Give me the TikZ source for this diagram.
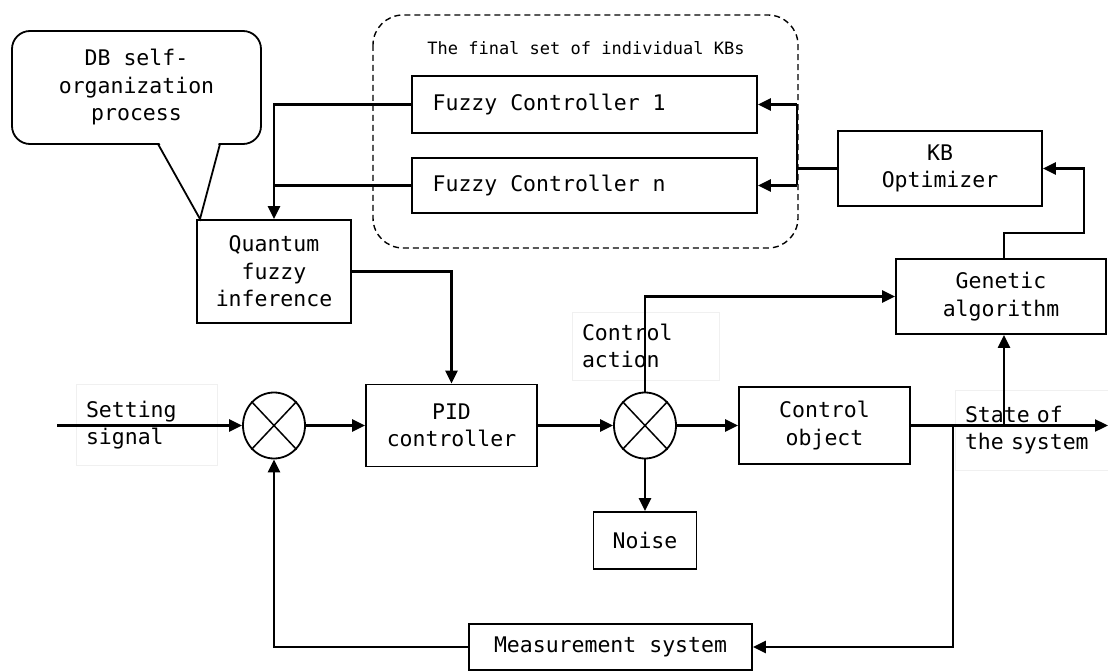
\documentclass[tikz,border=0pt]{standalone}
\usepackage{fontspec}
\newfontfamily\diagfont[WordSpace={1,0,0}]{DejaVu Sans Mono}
\usetikzlibrary{arrows.meta,shapes.geometric}

\newcommand\dgtext{\diagfont\fontsize{21.5}{27.5}\selectfont}
\newcommand\dgsmall{\diagfont\fontsize{17}{21}\selectfont}

\begin{document}
\begin{tikzpicture}[x=1pt,y=-1pt,
  block/.style={draw, line width=1.8pt, inner sep=0pt, align=center, font=\dgtext},
  sumnode/.style={draw, ellipse, line width=1.8pt, minimum width=62, minimum height=66, inner sep=0pt},
  lblbox/.style={draw=black!6, line width=0.8pt, inner ysep=0pt, inner xsep=10pt, align=left, font=\dgtext},
  wire/.style={line width=2.3pt},
  arr/.style={wire, -{Triangle[length=13pt, width=12pt]}},
  group/.style={draw, line width=1.4pt, dash pattern=on 6pt off 4pt, rounded corners=30pt}
]
\useasboundingbox (0,0) rectangle (1108,671);

% signal labels (faint frames behind the wires)
\node[lblbox, text width=121, minimum height=81] (setlbl) at (146.5,425) {Setting\\signal};
\node[lblbox, text width=127, minimum height=68] (actlbl) at (645.5,346) {Control\\action};
\node[lblbox, text width=133, minimum height=80] (statelbl) at (1031.5,430) {State of\\the system};

% group of individual knowledge bases
\draw[group] (373,15) rectangle (798,248);
\node[font=\dgsmall] (kbtitle) at (586,48) {The final set of individual KBs};
\node[block, minimum width=345, minimum height=57] (fc1) at (584.5,104.5) {};
\node[font=\dgtext, anchor=west] (fc1t) at (fc1.west) [xshift=18pt] {Fuzzy Controller 1};
\node[block, minimum width=345, minimum height=55] (fcn) at (584.5,185.5) {};
\node[font=\dgtext, anchor=west] (fcnt) at (fcn.west) [xshift=18pt] {Fuzzy Controller n};

% callout
\node[block, rounded corners=18pt, minimum width=249, minimum height=113] (db) at (136.5,87.5) {DB self-\\organization\\process};
\fill[white] (159.2,142.6) -- (218.8,142.6) -- (200,214) -- cycle;
\draw[line width=1.8pt] (158,144) -- (200,219) -- (220,144);

% blocks
\node[block, minimum width=154, minimum height=103] (qfi) at (274,271.5) {Quantum\\fuzzy\\inference};
\node[block, minimum width=204, minimum height=75] (kb) at (940,168.5) {KB\\Optimizer};
\node[block, minimum width=210, minimum height=75] (ga) at (1001,296.5) {Genetic\\algorithm};
\node[block, minimum width=171, minimum height=82] (pid) at (451.5,425.5) {PID\\controller};
\node[block, minimum width=171, minimum height=77] (co) at (824.5,425.5) {Control\\object};
\node[block, minimum width=103, minimum height=57] (noise) at (645,540.5) {Noise};
\node[block, minimum width=283, minimum height=46] (ms) at (610.5,647) {Measurement system};

% summing junctions
\node[sumnode] (s1) at (274,425.5) {};
\node[sumnode] (s2) at (645,425.5) {};
\foreach \s in {s1,s2}{
  \draw[line width=1.5pt] (\s.north east) -- (\s.south west) (\s.north west) -- (\s.south east);
}

% helper points
\coordinate (in) at (57,425.5);
\coordinate (out) at (1108,425.5);
\coordinate (jfb) at (953,425.5);
\coordinate (jga) at (1004,425.5);
\coordinate (jkb1) at (797,104.5);
\coordinate (jkbn) at (797,185.5);
\coordinate (gtop) at (1004,233);
\coordinate (gright) at (1084,233);
\coordinate (actcorner) at (645,296.5);

% connectors
\draw[arr] (in) -- (s1.west);
\draw[arr] (s1.east) -- (pid.west);
\draw[arr] (pid.east) -- (s2.west);
\draw[arr] (s2.east) -- (co.west);
\draw[arr] (co.east) -- (out);
\draw[arr] (s2.south) -- (noise.north);
\draw[arr] (jfb) |- (ms.east);
\draw[arr] (ms.west) -| (s1.south);
\draw[arr] (jga) -- (jga |- ga.south);
\draw[arr] (s2.north) -- (actcorner) -- (ga.west);
\draw[arr] (gtop |- ga.north) -- (gtop) -- (gright) |- (kb.east);
\draw[wire] (kb.west) -- (kb.west -| jkb1);
\draw[wire] (jkb1) -- (jkbn);
\draw[arr] (jkb1) -- (fc1.east);
\draw[arr] (jkbn) -- (fcn.east);
\draw[arr] (fc1.west) -| (qfi.north);
\draw[wire] (fcn.west) -- (fcn.west -| qfi.north);
\draw[arr] (qfi.east) -| (pid.north);
\end{tikzpicture}
\end{document}
